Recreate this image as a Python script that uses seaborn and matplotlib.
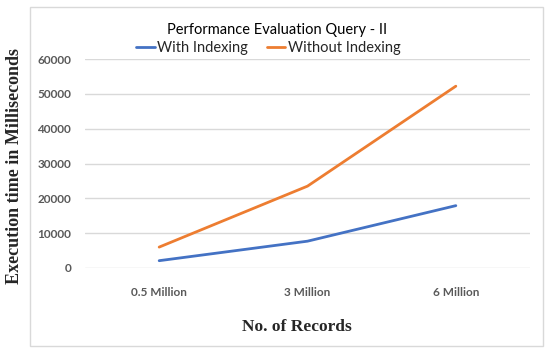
import matplotlib
matplotlib.use("Agg")
import matplotlib.pyplot as plt
import seaborn as sns
import pandas as pd
from matplotlib.patches import Rectangle

records = ["0.5 Million", "3 Million", "6 Million"]
with_indexing = [2100, 7700, 17900]
without_indexing = [6000, 23500, 52200]
series_names = ["With Indexing", "Without Indexing"]
yticks = [0, 10000, 20000, 30000, 40000, 50000, 60000]

df = pd.DataFrame({
    "records": records * 2,
    "time": with_indexing + without_indexing,
    "series": [series_names[0]] * 3 + [series_names[1]] * 3,
})

sns.set_style("white")
plt.rcParams["font.family"] = ["Lato", "DejaVu Sans"]

fig = plt.figure(figsize=(5.5, 3.58), dpi=100)
ax = fig.add_axes([85 / 550, 1 - 268 / 358, 445 / 550, 209 / 358])

sns.lineplot(data=df, x="records", y="time", hue="series", ax=ax,
             palette=["#4472C4", "#ED7D31"], linewidth=2.0, legend=False,
             sort=False)

ax.set_xlim(-0.5, 2.5)
ax.set_ylim(0, 60000)
ax.set_yticks(yticks)
ax.set_yticklabels([str(v) for v in yticks])
ax.yaxis.grid(True, color="#D9D9D9", linewidth=1)
ax.set_axisbelow(True)
for s in ax.spines.values():
    s.set_visible(False)
ax.tick_params(axis="both", length=0, labelsize=8.5, colors="#595959", pad=14)
ax.tick_params(axis="y", pad=10)
for lab in ax.get_xticklabels() + ax.get_yticklabels():
    lab.set_fontweight("bold")
ax.set_xlabel("")
ax.set_ylabel("")

# chart border
fig.add_artist(Rectangle((30 / 550, 1 - 346 / 358), 513 / 550, 339 / 358,
                         transform=fig.transFigure, fill=False,
                         edgecolor="#D9D9D9", linewidth=1))

fig.text(277 / 550, 1 - 30 / 358, "Performance Evaluation Query - II",
         ha="center", va="center", fontsize=10.5, color="#000000")

handles = [plt.Line2D([], [], color=c, linewidth=2.0) for c in ["#4472C4", "#ED7D31"]]
fig.legend(handles, series_names, loc="center", bbox_to_anchor=(268 / 550, 1 - 48 / 358),
           ncol=2, frameon=False, fontsize=10.5, handlelength=1.3,
           handletextpad=0.15, columnspacing=1.3, borderpad=0)

fig.text(15 / 550, 1 - 166 / 358, "Execution time in Milliseconds",
         rotation=90, ha="center", va="center", fontsize=13,
         fontweight="bold", family=["Liberation Serif", "DejaVu Serif"])
fig.text(297 / 550, 1 - 327 / 358, "No. of Records", ha="center", va="center",
         fontsize=12.5, fontweight="bold", family=["Liberation Serif", "DejaVu Serif"])

fig.savefig("out.png", dpi=100, facecolor="white")
